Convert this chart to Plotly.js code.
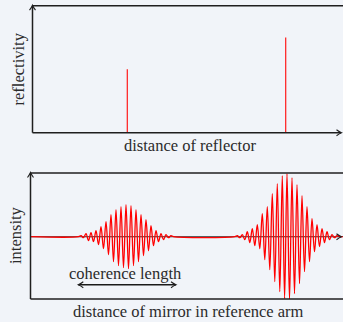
<!DOCTYPE html>
<html>
<head>
<meta charset="utf-8">
<script src="https://cdn.plot.ly/plotly-3.0.1.min.js"></script>
<style>html,body{margin:0;padding:0;background:#f1f4f9;}#chart{width:343px;height:322px;}</style>
</head>
<body>
<div id="chart"></div>
<script>
// ---- data ----
// top panel: reflector positions (distance) and reflectivity
var reflectorPos = [94.8, 253.2];
var reflectivity = [0.50, 0.75];

// bottom panel: interference signal (extrema)
var signalX = [-2, 46,
  48.5, 51, 53.5, 56, 58.5, 61, 63.5, 66, 68.5, 71, 73.5, 76, 78.5, 81, 83.5, 86, 88.5, 91,
  93.5, 96, 98.5, 101, 103.5, 106, 108.5, 111, 113.5, 116, 118.5, 121, 123.5, 126, 128.5, 131,
  133.5, 136, 138.5, 141, 202.3,
  204.8, 207.3, 209.8, 212.3, 214.8, 217.3, 219.8, 222.3, 224.8, 227.3, 229.8, 232.3, 234.8,
  237.3, 239.8, 242.3, 244.8, 247.3, 249.8, 252.1, 254.5, 257, 259.5, 262, 264.5, 267, 269.5,
  272, 274.5, 277, 279.5, 282, 284.5, 287, 289.5, 292, 294.5, 297, 299.5, 302, 304.5, 307, 310.5];
var signalY = [0, 0,
  1, -1, 3, -4, 4, -5, 6, -8, 10, -12, 15, -18, 22, -25, 27, -29, 30, -31,
  32, -32, 31, -29, 27, -25, 22, -19, 17, -14, 11, -9, 6, -5, 3, -3,
  2, -1, 1, 0, 0,
  1, -1, 2, -3, 5, -6, 8, -9, 12, -12, 23, -23, 30,
  -33, 43, -45, 53, -55, 61, -62, 63, -63, 59, -57, 52, -47, 41,
  -35, 30, -25, 18, -15, 12, -10, 8, -6, 5, -3, 2, -1, 1, 0, 0];

// coherence length marker (distance units)
var coherenceStart = 45.8, coherenceEnd = 143.5;

// ---- labels ----
var labels = {
  topY: 'reflectivity', topX: 'distance of reflector',
  botY: 'intensity', botX: 'distance of mirror in reference arm',
  coh: 'coherence length'
};

// ---- geometry helpers (pixels -> paper) ----
var W = 343, H = 322;
function px(x){ return x / W; }
function py(y){ return 1 - y / H; }

var topL = 32.5, topT = 5.7, topB = 132.7;
var botL = 30.5, botT = 173, botB = 299, botZero = 236.7;

var spikeX = [], spikeY = [];
for (var i = 0; i < reflectorPos.length; i++) {
  spikeX.push(reflectorPos[i], reflectorPos[i], null);
  spikeY.push(0, reflectivity[i], null);
}

var traces = [
  {x: spikeX, y: spikeY, xaxis: 'x', yaxis: 'y', mode: 'lines',
   line: {color: '#ff1a1a', width: 1.2}, hoverinfo: 'skip'},
  {x: signalX, y: signalY, xaxis: 'x2', yaxis: 'y2', mode: 'lines',
   line: {color: '#ff0000', width: 1.3, shape: 'spline', smoothing: 1}, hoverinfo: 'skip'},
  {x: [coherenceStart, coherenceEnd], y: [-48, -48], xaxis: 'x2', yaxis: 'y2', mode: 'lines',
   line: {color: '#1a1a1a', width: 1.5}, hoverinfo: 'skip'}
];

var lc = '#1f1f1f', lw = 1.5;
function seg(x0, y0, x1, y1, layer){
  return {type: 'line', xref: 'paper', yref: 'paper', x0: px(x0), y0: py(y0), x1: px(x1), y1: py(y1),
          line: {color: lc, width: lw}, layer: layer || 'above'};
}
function chevRight(x, y){
  return {type: 'path', xref: 'paper', yref: 'paper', layer: 'above',
    path: 'M' + px(x-5) + ',' + py(y-3) + ' Q' + px(x-2) + ',' + py(y-0.8) + ' ' + px(x) + ',' + py(y) +
          ' Q' + px(x-2) + ',' + py(y+0.8) + ' ' + px(x-5) + ',' + py(y+3),
    line: {color: lc, width: 1.1}};
}
function chevLeft(x, y){
  return {type: 'path', xref: 'paper', yref: 'paper', layer: 'above',
    path: 'M' + px(x+5) + ',' + py(y-3) + ' Q' + px(x+2) + ',' + py(y-0.8) + ' ' + px(x) + ',' + py(y) +
          ' Q' + px(x+2) + ',' + py(y+0.8) + ' ' + px(x+5) + ',' + py(y+3),
    line: {color: lc, width: 1.1}};
}
function chevUp(x, y){
  return {type: 'path', xref: 'paper', yref: 'paper', layer: 'above',
    path: 'M' + px(x-3) + ',' + py(y+5) + ' Q' + px(x-0.8) + ',' + py(y+2) + ' ' + px(x) + ',' + py(y) +
          ' Q' + px(x+0.8) + ',' + py(y+2) + ' ' + px(x+3) + ',' + py(y+5),
    line: {color: lc, width: 1.1}};
}

var shapes = [
  // top panel frame
  seg(topL, topT, W + 2, topT),
  seg(topL, topT, topL, topB),
  seg(topL, topB, 341, topB),
  chevUp(topL, topT - 0.5),
  chevRight(341.5, topB),
  // bottom panel frame
  seg(botL, botT, W + 2, botT),
  seg(botL, botT, botL, botB),
  seg(botL, botB, W + 2, botB),
  chevUp(botL, botT - 0.5),
  // zero axis (below the signal)
  {type: 'line', xref: 'paper', yref: 'paper', x0: px(botL), y0: py(botZero), x1: px(341), y1: py(botZero),
   line: {color: '#2a2a2a', width: 1.1}, layer: 'below'},
  chevRight(341.5, botZero)
];

var fnt = {family: 'Liberation Serif, Times New Roman, serif', size: 16.5, color: '#2b2b2b'};
function ann(text, x, y, rot){
  return {text: text, xref: 'paper', yref: 'paper', x: px(x), y: py(y), xanchor: 'center', yanchor: 'middle',
          showarrow: false, textangle: rot || 0, font: fnt};
}
var annotations = [
  ann(labels.topY, 17.5, 69, -90),
  ann(labels.topX, 190, 145),
  ann(labels.botY, 15, 235, -90),
  ann(labels.coh, 125.3, 273.5),
  ann(labels.botX, 189, 311.5)
];

var layout = {
  width: W, height: H,
  margin: {l: 0, r: 0, t: 0, b: 0},
  paper_bgcolor: '#f1f4f9', plot_bgcolor: 'rgba(0,0,0,0)',
  showlegend: false,
  xaxis: {domain: [px(topL), 1], range: [0, W - topL], visible: false, fixedrange: true},
  yaxis: {domain: [py(topB), py(topT)], range: [0, 1], visible: false, fixedrange: true},
  xaxis2: {domain: [px(botL), 1], range: [botL - topL, W - topL], visible: false, fixedrange: true, anchor: 'y2'},
  yaxis2: {domain: [py(botB), py(botT)], range: [-(botB - botZero), botZero - botT], visible: false, fixedrange: true, anchor: 'x2'},
  shapes: shapes,
  annotations: annotations
};

// coherence arrow heads positioned from the data via axis mapping
var xa2len = (W - botL);
function dataToPx2(x){ return botL + (x - (botL - topL)) / ((W - topL) - (botL - topL)) * xa2len; }
var cohY = botZero + 48;
layout.shapes.push(chevLeft(dataToPx2(coherenceStart), cohY));
layout.shapes.push(chevRight(dataToPx2(coherenceEnd), cohY));

Plotly.newPlot('chart', traces, layout, {displayModeBar: false, staticPlot: true});
</script>
</body>
</html>
